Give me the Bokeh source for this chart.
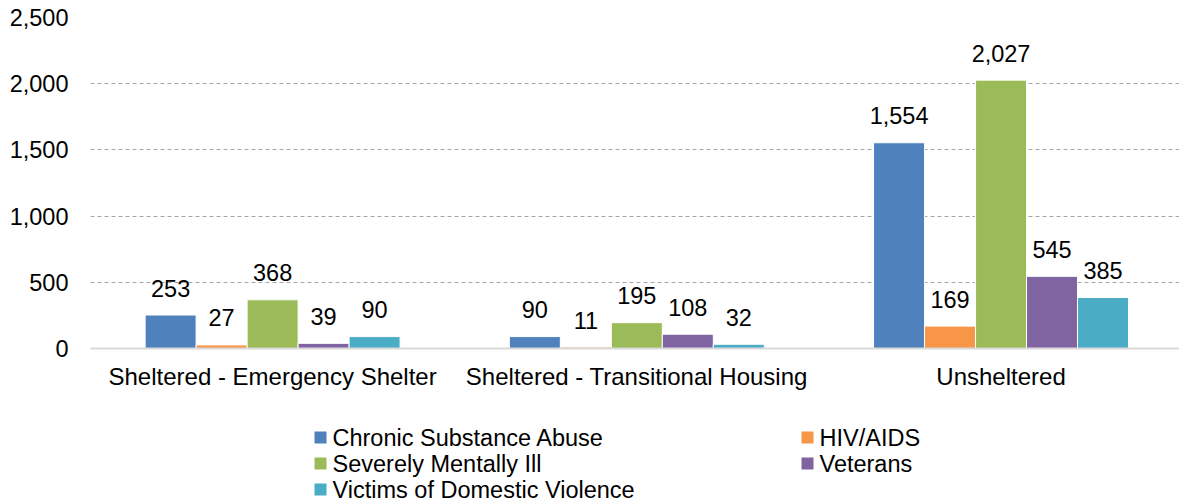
from bokeh.plotting import figure
from bokeh.models import Range1d, FixedTicker, NumeralTickFormatter, ColumnDataSource
from bokeh.layouts import column
from bokeh.embed import file_html
from bokeh.resources import INLINE
from bokeh.core.properties import value

categories = ["Sheltered - Emergency Shelter", "Sheltered - Transitional Housing", "Unsheltered"]
series = ["Chronic Substance Abuse", "HIV/AIDS", "Severely Mentally Ill", "Veterans",
          "Victims of Domestic Violence"]
chronic_substance_abuse = [253, 90, 1554]
hiv_aids = [27, 11, 169]
severely_mentally_ill = [368, 195, 2027]
veterans = [39, 108, 545]
victims_domestic_violence = [90, 32, 385]
y_ticks = [0, 500, 1000, 1500, 2000, 2500]

colors = ["#4f81bd", "#f79646", "#9bbb59", "#8064a2", "#4bacc6"]
values_by_series = [chronic_substance_abuse, hiv_aids, severely_mentally_ill, veterans,
                    victims_domestic_violence]

FONT = "Liberation Sans"
FS = "23.5px"
FS_CAT = "24px"
BAR_W = 0.14
offsets = [-0.28, -0.14, 0.0, 0.14, 0.28]
centers = [i + 0.5 for i in range(len(categories))]

W = 1179
p = figure(width=W, height=400, x_range=Range1d(0, 2.99), y_range=Range1d(0, 2500),
           output_backend="svg", toolbar_location=None,
           min_border_left=90, min_border_right=0, min_border_top=17, min_border_bottom=52)
p.outline_line_color = None
p.background_fill_color = "white"
p.border_fill_color = "white"

for s, vals, col, off in zip(series, values_by_series, colors, offsets):
    src = ColumnDataSource(dict(
        x=[c + off for c in centers],
        top=vals,
        label=[f"{v:,}" for v in vals],
    ))
    p.vbar(x="x", top="top", width=BAR_W, bottom=0, source=src,
           fill_color=col, line_color="white", line_width=1)
    p.text(x="x", y="top", text="label", source=src, text_align="center",
           text_baseline="alphabetic", y_offset=-27, text_font=value(FONT),
           text_font_size=FS, text_color="#000000")

# axes
p.xaxis.ticker = FixedTicker(ticks=centers)
p.xaxis.major_label_overrides = {c: cat for c, cat in zip(centers, categories)}
p.xaxis.axis_line_color = "#d9d9d9"
p.xaxis.axis_line_width = 2
p.xaxis.major_tick_line_color = None
p.xaxis.minor_tick_line_color = None
p.xaxis.major_tick_out = 0
p.xaxis.major_label_standoff = 14
p.xaxis.major_label_text_font = FONT
p.xaxis.major_label_text_font_size = FS_CAT
p.xaxis.major_label_text_color = "#000000"

p.yaxis.ticker = FixedTicker(ticks=y_ticks)
p.yaxis.formatter = NumeralTickFormatter(format="0,0")
p.yaxis.axis_line_color = None
p.yaxis.major_tick_line_color = None
p.yaxis.minor_tick_line_color = None
p.yaxis.major_tick_out = 0
p.yaxis.major_label_standoff = 22
p.yaxis.major_label_text_font = FONT
p.yaxis.major_label_text_font_size = FS
p.yaxis.major_label_text_color = "#000000"

p.xgrid.grid_line_color = None
p.ygrid.grid_line_color = "#a6a6a6"
p.ygrid.grid_line_dash = "4 3"
p.ygrid.grid_line_width = 1

# legend panel (two columns, row-major order); x in page pixels
LH = 103
leg = figure(width=W, height=LH, x_range=Range1d(90, W), y_range=Range1d(LH, 0),
             output_backend="svg", toolbar_location=None, x_axis_type=None, y_axis_type=None,
             min_border_left=90, min_border_right=0, min_border_top=0, min_border_bottom=0)
leg.outline_line_color = None
leg.xgrid.grid_line_color = None
leg.ygrid.grid_line_color = None
col_x = [320, 807]
row_y = [37, 63, 89]
lx, ly, tx = [], [], []
for i in range(len(series)):
    r, c = divmod(i, 2)
    lx.append(col_x[c])
    ly.append(row_y[r])
    tx.append(col_x[c] + 12)
lsrc = ColumnDataSource(dict(x=lx, y=ly, tx=tx, label=series, color=colors))
leg.rect(x="x", y="y", width=12, height=12, width_units="screen", height_units="screen",
         fill_color="color", line_color=None, source=lsrc)
leg.text(x="tx", y="y", text="label", source=lsrc, text_align="left", text_baseline="middle",
         text_font=value(FONT), text_font_size=FS, text_color="#000000")

layout = column(p, leg, spacing=0)
open("out.html", "w").write(file_html(layout, INLINE))
